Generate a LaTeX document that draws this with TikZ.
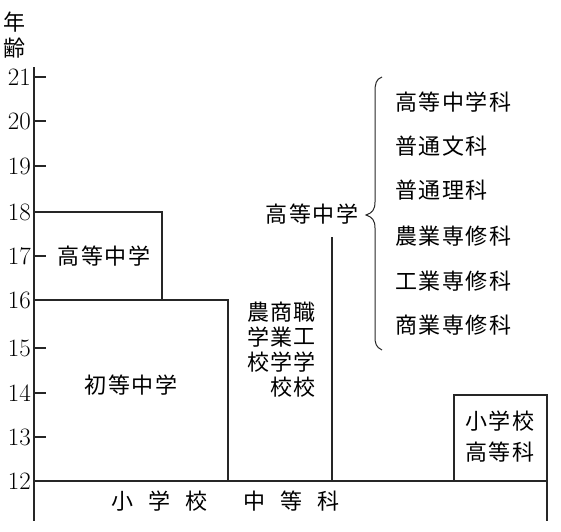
\documentclass[tikz,border=0pt]{standalone}
\usepackage{fontspec}
\newfontfamily\jp[LetterSpace=7]{Noto Sans CJK JP}
\begin{document}
\begin{tikzpicture}[x=1pt,y=-1pt,
  ln/.style={line width=1.2pt,black!85},
  num/.style={anchor=east,inner sep=0pt,font=\fontsize{25}{25}\selectfont},
  jt/.style={inner sep=0pt,font=\jp\fontsize{22}{22}\selectfont},
  item/.style={jt,anchor=west}]
\useasboundingbox (0,0) rectangle (561,531);
% y-axis
\coordinate (atop) at (34,67);
\coordinate (abot) at (34,521);
\draw[ln] (atop) -- (abot);
\node[jt] (nen) at (14,22) {年};
\node[jt] (rei) at (14,48) {齢};
% ticks and numbers
\foreach \a/\y in {21/77,20/121,19/166,18/212,17/256,16/300,15/348,14/393,13/437,12/481}{
  \node[num] (n\a) at (31,\y) {\a};
}
\foreach \y in {77,121,166,256,348,393,437}{
  \draw[ln] (34,\y) -- (46,\y);
}
% boxes
\draw[ln] (34,212) -- (162,212) -- (162,300);
\draw[ln] (34,300) -- (228,300) -- (228,481);
\draw[ln] (34,481) -- (547,481);
\draw[ln] (454,481) -- (454,395) -- (547,395) -- (547,521);
\node[jt] (koto) at (104,256) {高等中学};
\node[jt] (shoto) at (131,385) {初等中学};
% vocational schools
\node[jt] (v11) at (258,312) {農};
\node[jt] (v12) at (281,312) {商};
\node[jt] (v13) at (304,312) {職};
\node[jt] (v21) at (258,337) {学};
\node[jt] (v22) at (281,337) {業};
\node[jt] (v23) at (304,337) {工};
\node[jt] (v31) at (258,362) {校};
\node[jt] (v32) at (281,362) {学};
\node[jt] (v33) at (304,362) {学};
\node[jt] (v42) at (281,387) {校};
\node[jt] (v43) at (304,387) {校};
% high school middle
\node[jt] (kotoM) at (312,214) {高等中学};
\coordinate (vtop) at (332,237);
\coordinate (vbot) at (332,481);
\draw[ln] (vtop) -- (vbot);
% brace
\draw[line width=1pt,black!85] (382,77) .. controls (376,79) and (375,84) .. (375,92)
  -- (375,202) .. controls (375,210) and (372,213) .. (366,215)
  .. controls (372,217) and (375,220) .. (375,228)
  -- (375,336) .. controls (375,344) and (376,347) .. (382,350);
\node[item] (i1) at (395,102) {高等中学科};
\node[item] (i2) at (395,146) {普通文科};
\node[item] (i3) at (395,190) {普通理科};
\node[item] (i4) at (395,236) {農業専修科};
\node[item] (i5) at (395,281) {工業専修科};
\node[item] (i6) at (395,325) {商業専修科};
% elementary higher
\node[jt] (sho1) at (500,421) {小学校};
\node[jt] (sho2) at (500,452) {高等科};
% bottom
\node[jt] (b1) at (122,501) {小};
\node[jt] (b2) at (159,501) {学};
\node[jt] (b3) at (196,501) {校};
\node[jt] (b4) at (254,501) {中};
\node[jt] (b5) at (291,501) {等};
\node[jt] (b6) at (328,501) {科};
\end{tikzpicture}
\end{document}
